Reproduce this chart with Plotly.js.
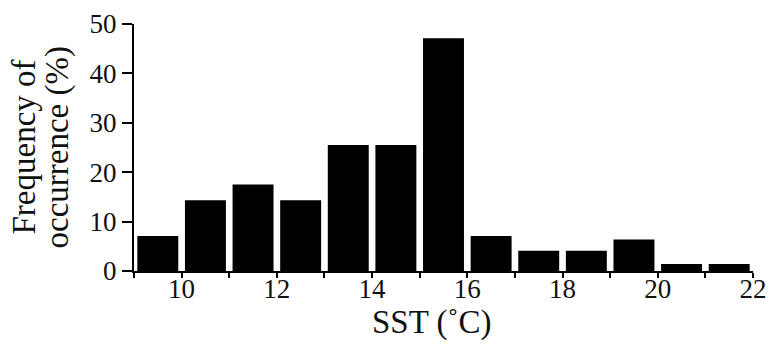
<!DOCTYPE html>
<html>
<head>
<meta charset="utf-8">
<script src="https://cdn.plot.ly/plotly-3.0.1.min.js"></script>
<style>html,body{margin:0;padding:0;background:#fff;}#chart{width:771px;height:347px;}</style>
</head>
<body>
<div id="chart"></div>
<script>
const binCenters = [9.5, 10.5, 11.5, 12.5, 13.5, 14.5, 15.5, 16.5, 17.5, 18.5, 19.5, 20.5, 21.5];
const frequency = [7.1, 14.3, 17.5, 14.3, 25.5, 25.5, 47.1, 7.1, 4.1, 4.1, 6.4, 1.4, 1.4];
const xTickVals = [10, 12, 14, 16, 18, 20, 22];
const xTickText = ['10', '12', '14', '16', '18', '20', '22'];
const yTickVals = [0, 10, 20, 30, 40, 50];
const xTitle = 'SST (˚C)';
const yTitleLine1 = 'Frequency of';
const yTitleLine2 = 'occurrence (%)';

const fontFam = '"Liberation Serif", "Times New Roman", serif';

const trace = {
  type: 'bar',
  x: binCenters,
  y: frequency,
  width: 0.86,
  marker: {color: '#000', line: {width: 0}},
  hoverinfo: 'skip'
};

const layout = {
  width: 771, height: 347,
  margin: {l: 134, r: 18, t: 24, b: 76},
  paper_bgcolor: '#fff', plot_bgcolor: '#fff',
  showlegend: false,
  font: {family: fontFam, color: '#000'},
  xaxis: {
    range: [9, 22],
    tickvals: xTickVals, ticktext: xTickText,
    ticks: 'outside', ticklen: 5, tickwidth: 2, tickcolor: '#000',
    ticklabelstandoff: -12,
    minor: {dtick: 1, tick0: 9, ticks: 'outside', ticklen: 5, tickwidth: 2, tickcolor: '#000', showgrid: false},
    showline: true, linecolor: '#000', linewidth: 2,
    showgrid: false, zeroline: false,
    tickfont: {family: fontFam, size: 27, color: '#111'}
  },
  yaxis: {
    range: [0, 50],
    tickvals: yTickVals,
    ticks: 'outside', ticklen: 10, tickwidth: 2, tickcolor: '#000',
    showline: true, linecolor: '#000', linewidth: 2,
    showgrid: false, zeroline: false,
    tickfont: {family: fontFam, size: 27, color: '#111'}
  },
  annotations: [
    {text: xTitle, xref: 'paper', yref: 'paper', x: 0.481, y: -0.21,
     xanchor: 'center', yanchor: 'middle', showarrow: false,
     font: {family: fontFam, size: 33, color: '#111'}},
    {text: yTitleLine1, xref: 'paper', yref: 'paper', x: (23 - 134) / 619, y: 0.5,
     xanchor: 'center', yanchor: 'middle', showarrow: false, textangle: -90,
     font: {family: fontFam, size: 33, color: '#111'}},
    {text: yTitleLine2, xref: 'paper', yref: 'paper', x: (57 - 134) / 619, y: 0.5,
     xanchor: 'center', yanchor: 'middle', showarrow: false, textangle: -90,
     font: {family: fontFam, size: 33, color: '#111'}}
  ]
};

Plotly.newPlot('chart', [trace], layout, {displayModeBar: false, staticPlot: true});
</script>
</body>
</html>
